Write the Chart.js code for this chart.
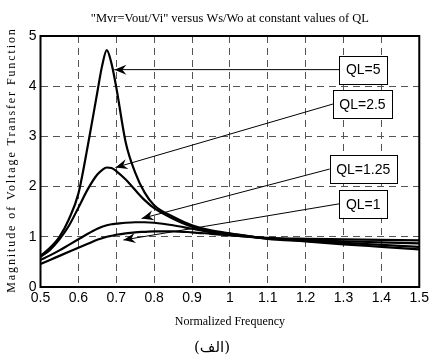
<!DOCTYPE html>
<html>
<head>
<meta charset="utf-8">
<script src="https://cdn.jsdelivr.net/npm/chart.js@4"></script>
<style>
  html, body { margin: 0; padding: 0; background: #fff; }
  #wrap { width: 432px; height: 356px; }
</style>
</head>
<body>
<div id="wrap"><canvas id="chart" width="432" height="356"></canvas></div>
<script>
// normalized frequency Ws/Wo
const freq = [0.5, 0.525, 0.55, 0.575, 0.6, 0.625, 0.65, 0.6625, 0.675, 0.6875, 0.7, 0.725,
              0.75, 0.775, 0.8, 0.85, 0.9, 0.95, 1.0, 1.1, 1.2, 1.3, 1.4, 1.5];

const ql5   = [0.62, 0.78, 1.00, 1.35, 1.86, 2.82, 3.88, 4.40, 4.72, 4.45, 3.98, 2.88,
               2.28, 1.88, 1.63, 1.40, 1.23, 1.13, 1.07, 0.96, 0.91, 0.85, 0.80, 0.75];
const ql25  = [0.60, 0.74, 0.95, 1.22, 1.58, 1.95, 2.24, 2.33, 2.38, 2.37, 2.31, 2.14,
               1.93, 1.73, 1.57, 1.36, 1.20, 1.11, 1.06, 0.97, 0.92, 0.88, 0.84, 0.80];
const ql125 = [0.54, 0.63, 0.73, 0.84, 0.95, 1.06, 1.16, 1.20, 1.23, 1.25, 1.26, 1.28,
               1.29, 1.29, 1.28, 1.23, 1.16, 1.09, 1.04, 0.97, 0.94, 0.91, 0.89, 0.87];
const ql1   = [0.46, 0.54, 0.62, 0.70, 0.78, 0.86, 0.94, 0.97, 1.00, 1.02, 1.04, 1.07,
               1.09, 1.10, 1.11, 1.11, 1.09, 1.06, 1.03, 0.98, 0.96, 0.95, 0.94, 0.93];

const seriesLabels = ["QL=5", "QL=2.5", "QL=1.25", "QL=1"];
const seriesValues = [ql5, ql25, ql125, ql1];

const titleText = "\"Mvr=Vout/Vi\" versus Ws/Wo at constant values of QL";
const yTitle = "Magnitude of Voltage Transfer Function";
const xTitle = "Normalized Frequency";
const caption = "(الف)";

// label boxes: centre of box and arrow tip, in data units
const callouts = [
  { text: "QL=5",    bx: 1.352, by: 4.33,  tx: 0.695, ty: 4.33 },
  { text: "QL=2.5",  bx: 1.350, by: 3.645, tx: 0.698, ty: 2.38 },
  { text: "QL=1.25", bx: 1.352, by: 2.35,  tx: 0.767, ty: 1.365 },
  { text: "QL=1",    bx: 1.352, by: 1.657, tx: 0.719, ty: 0.936 }
];

const narrow = "'Liberation Sans Narrow', 'Liberation Sans', Arial, sans-serif";
const serif = "'Liberation Serif', 'Times New Roman', serif";

const datasets = seriesValues.map((vals, i) => ({
  label: seriesLabels[i],
  data: freq.map((f, j) => ({ x: f, y: vals[j] })),
  borderColor: "#000",
  borderWidth: 2.2,
  pointRadius: 0,
  fill: false,
  cubicInterpolationMode: "monotone"
}));

function arrowHead(ctx, x0, y0, x1, y1) {
  const ang = Math.atan2(y1 - y0, x1 - x0);
  const len = 12, half = 5, notch = 8;
  ctx.beginPath();
  ctx.moveTo(x1, y1);
  ctx.lineTo(x1 - len * Math.cos(ang) + half * Math.sin(ang), y1 - len * Math.sin(ang) - half * Math.cos(ang));
  ctx.lineTo(x1 - notch * Math.cos(ang), y1 - notch * Math.sin(ang));
  ctx.lineTo(x1 - len * Math.cos(ang) - half * Math.sin(ang), y1 - len * Math.sin(ang) + half * Math.cos(ang));
  ctx.closePath();
  ctx.fill();
}

const decor = {
  id: "decor",
  afterDatasetsDraw(chart) {
    const { ctx, chartArea: a, scales: { x, y } } = chart;
    ctx.save();

    // plot frame
    ctx.strokeStyle = "#000";
    ctx.lineWidth = 2;
    ctx.strokeRect(a.left, a.top, a.right - a.left, a.bottom - a.top);

    // callouts
    ctx.font = "14px " + narrow;
    ctx.textAlign = "center";
    ctx.textBaseline = "middle";
    ctx.lineWidth = 1;
    ctx.fillStyle = "#000";
    callouts.forEach(c => {
      const cx = x.getPixelForValue(c.bx), cy = y.getPixelForValue(c.by);
      const w = Math.round(ctx.measureText(c.text).width + 13), h = 28;
      const left = cx - w / 2;
      const tx = x.getPixelForValue(c.tx), ty = y.getPixelForValue(c.ty);
      ctx.fillStyle = "#fff";
      ctx.fillRect(left, cy - h / 2, w, h);
      ctx.strokeStyle = "#000";
      ctx.strokeRect(Math.round(left) + 0.5, Math.round(cy - h / 2) + 0.5, w, h);
      ctx.fillStyle = "#000";
      ctx.fillText(c.text, cx, cy + 1);
      ctx.beginPath();
      ctx.moveTo(left, cy);
      ctx.lineTo(tx, ty);
      ctx.stroke();
      arrowHead(ctx, left, cy, tx, ty);
    });

    // texts
    ctx.fillStyle = "#000";
    ctx.textAlign = "center";
    ctx.textBaseline = "middle";
    const mid = (a.left + a.right) / 2;
    ctx.font = "12.5px " + serif;
    ctx.fillText(titleText, mid, 19);
    ctx.font = "12px " + serif;
    ctx.fillText(xTitle, mid, 322);
    ctx.font = "15px 'DejaVu Serif', 'DejaVu Sans', serif";
    ctx.fillText(caption, 212, 348);

    ctx.translate(12, 160);
    ctx.rotate(-Math.PI / 2);
    ctx.font = "12px " + serif;
    ctx.letterSpacing = "1.9px";
    ctx.fillText(yTitle, 0, 0);
    ctx.restore();
  }
};

new Chart(document.getElementById("chart"), {
  type: "line",
  data: { datasets },
  options: {
    responsive: false,
    animation: false,
    layout: { padding: { left: 0, top: 36, right: 9.5, bottom: 0 } },
    plugins: { legend: { display: false }, title: { display: false }, tooltip: { enabled: false } },
    scales: {
      x: {
        type: "linear",
        min: 0.5, max: 1.5,
        afterFit: s => { s.height = 69; },
        border: { display: false, dash: [7, 5] },
        grid: { color: "#555", lineWidth: 1, drawTicks: false },
        ticks: {
          stepSize: 0.1, padding: 3, color: "#000",
          font: { family: narrow, size: 14 },
          callback: v => String(Math.round(v * 10) / 10)
        }
      },
      y: {
        min: 0, max: 5,
        afterFit: s => { s.width = 40.5; },
        border: { display: false, dash: [7, 5] },
        grid: { color: "#555", lineWidth: 1, drawTicks: false },
        ticks: { stepSize: 1, padding: 4, color: "#000", font: { family: narrow, size: 14 } }
      }
    }
  },
  plugins: [decor]
});
</script>
</body>
</html>
